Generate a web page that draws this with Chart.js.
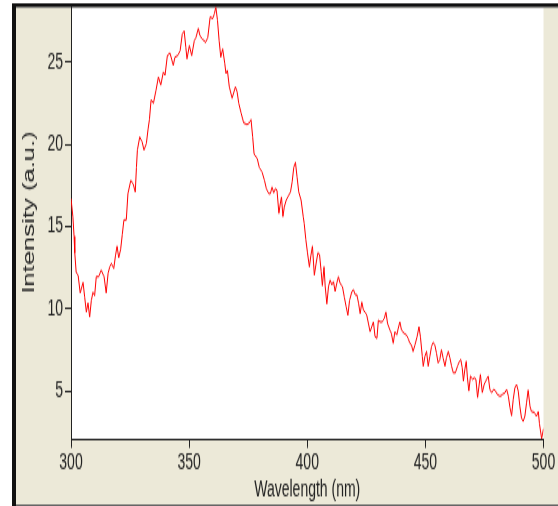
<!DOCTYPE html>
<html>
<head>
<meta charset="utf-8">
<script src="https://cdn.jsdelivr.net/npm/chart.js@4.4.0/dist/chart.umd.min.js"></script>
<style>
    html, body { margin: 0; padding: 0; background: #fff; overflow: hidden; }
    /* the picture is stretched vertically, so the canvas is drawn short and scaled up */
    #spectrum { display: block; width: 558px !important; height: 506px !important; }
</style>
</head>
<body>
<canvas id="spectrum" width="558" height="316" style="width:558px;height:506px"></canvas>
<script>
const wavelengths = [
    300.0, 300.8, 301.3, 301.6, 302.2, 303.0, 303.9, 305.1, 305.8, 306.5, 307.2, 307.9, 308.6, 309.3, 310.0,
    310.7, 311.7, 312.8, 314.0, 314.9, 315.7, 316.4, 317.1, 318.1, 318.8, 319.5, 320.2, 321.0, 321.7, 322.4,
    323.4, 324.1, 325.3, 326.3, 327.2, 327.7, 328.1, 329.1, 330.1, 330.9, 331.9, 332.6, 333.2, 333.9, 334.9,
    336.0, 337.0, 338.0, 339.1, 339.8, 340.8, 341.9, 343.3, 344.0, 345.2, 346.2, 347.1, 347.9, 348.6, 349.1,
    350.1, 351.1, 352.2, 352.9, 353.9, 354.6, 355.6, 357.0, 357.9, 358.9, 360.0, 360.7, 361.3, 362.0, 362.7,
    363.4, 364.2, 365.1, 365.6, 366.2, 367.0, 368.2, 369.6, 370.3, 371.0, 372.0, 373.1, 374.5, 375.5, 376.2,
    376.9, 377.5, 378.8, 379.7, 380.9, 381.9, 382.7, 383.7, 384.4, 385.1, 385.8, 386.5, 387.2, 388.0, 388.6,
    389.1, 389.7, 390.3, 391.1, 391.8, 392.9, 393.6, 394.3, 395.0, 395.7, 396.4, 397.4, 398.3, 398.7, 399.4,
    400.1, 400.9, 401.5, 402.2, 403.0, 403.8, 404.5, 405.2, 405.9, 406.4, 407.1, 407.6, 408.3, 409.0, 409.7,
    410.4, 411.1, 411.8, 412.5, 413.2, 413.9, 414.9, 415.7, 416.5, 417.2, 417.9, 418.9, 419.6, 420.3, 421.0,
    421.7, 422.4, 423.1, 423.8, 424.5, 425.2, 425.9, 426.6, 427.3, 428.0, 428.7, 429.5, 430.1, 430.8, 431.7,
    432.6, 433.3, 434.0, 435.0, 435.6, 436.4, 437.1, 437.9, 438.5, 439.2, 439.9, 441.0, 442.0, 442.7, 443.4,
    444.1, 444.8, 445.6, 446.5, 447.3, 447.9, 448.7, 449.1, 449.8, 450.5, 451.2, 451.9, 452.6, 453.3, 454.0,
    454.7, 455.4, 456.1, 456.8, 457.5, 458.3, 458.9, 459.7, 460.4, 461.1, 461.8, 462.7, 463.6, 464.4, 465.0,
    465.6, 466.1, 466.7, 467.3, 467.8, 468.4, 469.1, 470.0, 470.7, 471.4, 472.1, 472.7, 473.3, 474.1, 474.9,
    475.9, 476.6, 477.3, 478.0, 479.0, 479.7, 480.4, 481.3, 482.0, 482.7, 483.7, 484.4, 485.1, 485.8, 486.5,
    487.2, 487.9, 488.6, 489.3, 490.0, 490.7, 491.4, 492.1, 492.8, 493.5, 494.3, 494.9, 496.1, 497.0, 497.8,
    498.3, 499.2, 500.0
];
const intensities = [
    16.7, 15.6, 14.4, 13.4, 12.2, 12.05, 10.96, 11.6, 10.7, 9.8, 10.35, 9.5, 10.5, 11.0, 10.8,
    11.95, 11.95, 12.35, 11.95, 10.96, 12.15, 12.55, 12.76, 12.45, 13.2, 13.8, 13.1, 13.6, 14.5, 15.4,
    15.4, 17.0, 17.8, 17.6, 17.1, 18.6, 19.65, 20.45, 20.15, 19.65, 20.05, 20.9, 21.5, 22.7, 22.5,
    23.3, 24.1, 23.6, 24.4, 24.2, 25.4, 25.55, 24.8, 25.3, 25.4, 25.7, 26.7, 26.9, 25.9, 25.2,
    26.0, 25.4, 26.3, 26.5, 27.05, 26.6, 26.4, 26.2, 26.5, 27.75, 27.65, 27.95, 28.35, 27.55, 26.3,
    25.3, 25.8, 24.9, 24.3, 24.5, 23.5, 22.8, 23.5, 23.2, 22.5, 21.9, 21.3, 21.2, 21.3, 21.5,
    20.45, 19.4, 19.15, 18.6, 18.3, 17.8, 17.3, 17.0, 17.0, 17.4, 17.05, 17.3, 17.2, 15.8, 16.4,
    16.8, 15.6, 16.2, 16.6, 16.8, 17.1, 17.7, 18.6, 18.9, 18.0, 17.1, 16.6, 15.6, 15.2, 14.2,
    13.4, 12.55, 13.2, 13.8, 12.05, 12.8, 13.4, 13.3, 12.25, 11.4, 12.55, 11.35, 10.3, 11.35, 11.75,
    11.45, 11.65, 11.05, 11.55, 11.95, 11.55, 11.35, 10.7, 10.1, 9.6, 10.5, 11.05, 11.15, 10.85, 10.85,
    10.35, 9.7, 10.4, 9.9, 9.8, 9.6, 9.1, 8.6, 8.9, 9.2, 8.3, 8.2, 9.3, 9.2, 9.2,
    9.4, 9.8, 9.1, 8.7, 8.5, 7.9, 8.6, 8.4, 8.8, 9.2, 8.7, 8.5, 8.4, 8.2, 7.9,
    7.8, 7.4, 7.8, 8.3, 8.9, 8.3, 7.1, 6.5, 7.1, 7.4, 6.5, 7.1, 7.7, 7.95, 7.8,
    7.3, 6.7, 6.9, 7.5, 7.0, 6.5, 7.0, 7.4, 7.0, 6.5, 6.1, 6.1, 6.5, 6.8, 6.9,
    6.4, 5.6, 6.3, 6.8, 5.8, 5.0, 5.9, 5.7, 5.8, 5.7, 4.6, 5.3, 6.0, 4.9, 5.4,
    5.7, 5.9, 5.1, 4.9, 5.1, 5.0, 4.8, 4.7, 4.7, 4.8, 4.9, 5.1, 4.7, 4.0, 3.5,
    4.5, 5.2, 5.4, 5.0, 4.05, 3.35, 3.15, 3.45, 4.25, 5.05, 4.05, 3.75, 3.7, 3.45, 3.75,
    3.0, 2.1, 2.7
];
const xTicks = [300, 350, 400, 450, 500];
const yTicks = [5, 10, 15, 20, 25];

const labelFont = {family: "'Liberation Sans', Arial, sans-serif", size: 14};
const yTitleFont = {family: "'Liberation Sans', Arial, sans-serif", size: 16};
const inkColor = '#222';

// beige window, black frame, white plot area
const windowFrame = {
    id: 'windowFrame',
    beforeDraw(chart) {
        const ctx = chart.ctx;
        const w = chart.width;
        const h = chart.height;
        const area = chart.chartArea;
        ctx.save();
        ctx.fillStyle = '#fff';
        ctx.fillRect(0, 0, w, h);
        ctx.fillStyle = '#ece9d8';
        ctx.fillRect(16, 4.5, w - 16, h - 4.5);
        ctx.fillStyle = '#fff';
        ctx.fillRect(area.left, area.top, area.right - area.left, area.bottom - area.top);
        ctx.fillStyle = '#111';
        ctx.fillRect(12, 2, 4, h - 2);
        ctx.fillRect(12, 2, w - 12, 2.5);
        ctx.fillStyle = '#666';
        ctx.fillRect(16, h - 1, w - 16, 1);
        ctx.restore();
    }
};

const points = wavelengths.map((wl, i) => ({x: wl, y: intensities[i]}));

new Chart(document.getElementById('spectrum'), {
    type: 'line',
    data: {
        datasets: [{
            label: 'Intensity',
            data: points,
            borderColor: '#ff0000',
            borderWidth: 1,
            pointRadius: 0,
            tension: 0,
            fill: false
        }]
    },
    options: {
        responsive: false,
        animation: false,
        layout: {
            padding: {left: 0, right: 14.5, top: 4.56, bottom: 0}
        },
        plugins: {
            legend: {display: false},
            tooltip: {enabled: false}
        },
        scales: {
            x: {
                type: 'linear',
                min: 300,
                max: 500,
                afterBuildTicks: scale => {
                    scale.ticks = xTicks.map(v => ({value: v}));
                },
                afterFit: scale => {
                    scale.height = 41.9;
                    scale.paddingLeft = 0;
                    scale.paddingRight = 0;
                },
                grid: {drawOnChartArea: false, tickLength: 5.6, color: inkColor},
                border: {color: inkColor, width: 1},
                ticks: {font: labelFont, color: inkColor, padding: 1.2, maxRotation: 0, autoSkip: false},
                title: {
                    display: true,
                    text: 'Wavelength (nm)',
                    font: labelFont,
                    color: inkColor,
                    padding: {top: 0, bottom: 1.6}
                }
            },
            y: {
                min: 2.08,
                max: 28.33,
                afterBuildTicks: scale => {
                    scale.ticks = yTicks.map(v => ({value: v}));
                },
                afterFit: scale => {
                    scale.width = 71;
                    scale.paddingTop = 0;
                    scale.paddingBottom = 0;
                },
                grid: {drawOnChartArea: false, tickLength: 6, color: inkColor},
                border: {color: inkColor, width: 1},
                ticks: {font: labelFont, color: inkColor, padding: 2},
                title: {
                    display: true,
                    text: '   Intensity (a.u.)',
                    font: yTitleFont,
                    color: inkColor,
                    padding: {top: 20.4, bottom: 0}
                }
            }
        }
    },
    plugins: [windowFrame]
});
</script>
</body>
</html>
